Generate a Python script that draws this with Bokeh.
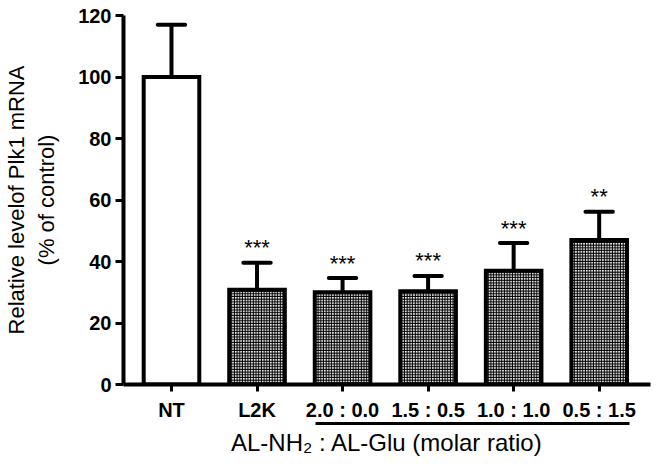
from bokeh.plotting import figure
from bokeh.models import Range1d, FixedTicker, LinearAxis
from bokeh.core.properties import value
from bokeh.embed import file_html
from bokeh.resources import INLINE

categories = ["NT", "L2K", "2.0 : 0.0", "1.5 : 0.5", "1.0 : 1.0", "0.5 : 1.5"]
means = [100.0, 30.8, 30.0, 30.3, 37.0, 47.0]
errors = [17.0, 8.8, 4.6, 5.0, 9.0, 9.2]
stars = ["", "***", "***", "***", "***", "**"]
fills = ["white", "pattern", "pattern", "pattern", "pattern", "pattern"]
y_ticks = [0, 20, 40, 60, 80, 100, 120]
group_label = "AL-NH\u2082 : AL-Glu (molar ratio)"

FONT = "Liberation Sans"

xs = list(range(len(categories)))
tops = [m + e for m, e in zip(means, errors)]
cap_half = 0.16

p = figure(width=660, height=466, output_backend="svg", toolbar_location=None,
           x_range=Range1d(-0.561, 5.60), y_range=Range1d(0, 120),
           min_border_left=117, min_border_right=10, min_border_top=15, min_border_bottom=82)
p.outline_line_color = None
p.grid.visible = False
p.background_fill_color = "white"

# bars
plain_idx = [i for i, f in enumerate(fills) if f == "white"]
pat_idx = [i for i, f in enumerate(fills) if f != "white"]
p.vbar(x=[xs[i] for i in plain_idx], top=[means[i] for i in plain_idx], bottom=0, width=0.65,
       fill_color="white", line_color="black", line_width=4, line_join="miter")
p.vbar(x=[xs[i] for i in pat_idx], top=[means[i] for i in pat_idx], bottom=0, width=0.65,
       fill_color="white", hatch_pattern="cross", hatch_color="black", hatch_scale=2.7,
       hatch_weight=1.4, line_color="black", line_width=4, line_join="miter")

# error bars (upper only)
p.segment(x0=xs, y0=means, x1=xs, y1=tops, line_color="black", line_width=4)
p.segment(x0=[x - cap_half for x in xs], y0=tops, x1=[x + cap_half for x in xs], y1=tops,
          line_color="black", line_width=4, line_cap="round")

# significance stars
p.text(x=xs, y=tops, text=stars, text_align="center", text_baseline="middle", y_offset=-15,
       text_font=value(FONT), text_font_size="22px", text_color="black")

# y axis
ya = p.yaxis[0]
ya.ticker = FixedTicker(ticks=y_ticks)
ya.minor_tick_line_color = None
ya.major_tick_in = 0
ya.major_tick_out = 8
ya.major_tick_line_width = 3
ya.axis_line_width = 4
ya.bounds = (0, 120)
ya.major_label_text_font = FONT
ya.major_label_text_font_style = "bold"
ya.major_label_text_font_size = "20px"
ya.major_label_text_color = "black"
ya.major_label_standoff = 4
ya.axis_label = "(% of control)"
ya.axis_label_text_font = FONT
ya.axis_label_text_font_style = "normal"
ya.axis_label_text_font_size = "22px"
ya.axis_label_text_color = "black"
ya.axis_label_standoff = 16

ya2 = LinearAxis(ticker=FixedTicker(ticks=[]), axis_line_color=None, major_tick_line_color=None,
                 minor_tick_line_color=None, major_label_text_font_size="0px",
                 axis_label="Relative levelof Plk1 mRNA", axis_label_text_font=FONT,
                 axis_label_text_font_style="normal", axis_label_text_font_size="22px",
                 axis_label_text_color="black", axis_label_standoff=3)
p.add_layout(ya2, "left")

# x axis
xa = p.xaxis[0]
xa.ticker = FixedTicker(ticks=xs)
xa.major_label_overrides = {i: c for i, c in zip(xs, categories)}
xa.minor_tick_line_color = None
xa.major_tick_in = 0
xa.major_tick_out = 7
xa.major_tick_line_width = 3
xa.axis_line_width = 4
xa.major_label_text_font = FONT
xa.major_label_text_font_style = "bold"
xa.major_label_text_font_size = "20px"
xa.major_label_text_color = "black"
xa.major_label_standoff = 7

xa2 = LinearAxis(ticker=FixedTicker(ticks=[]), bounds=(1.68, 5.36), axis_line_width=3,
                 major_tick_line_color=None, minor_tick_line_color=None,
                 major_label_text_font_size="0px",
                 axis_label=group_label, axis_label_text_font=FONT,
                 axis_label_text_font_style="normal", axis_label_text_font_size="24px",
                 axis_label_text_color="black", axis_label_standoff=5)
p.add_layout(xa2, "below")

open("out.html", "w").write(file_html(p, INLINE))
